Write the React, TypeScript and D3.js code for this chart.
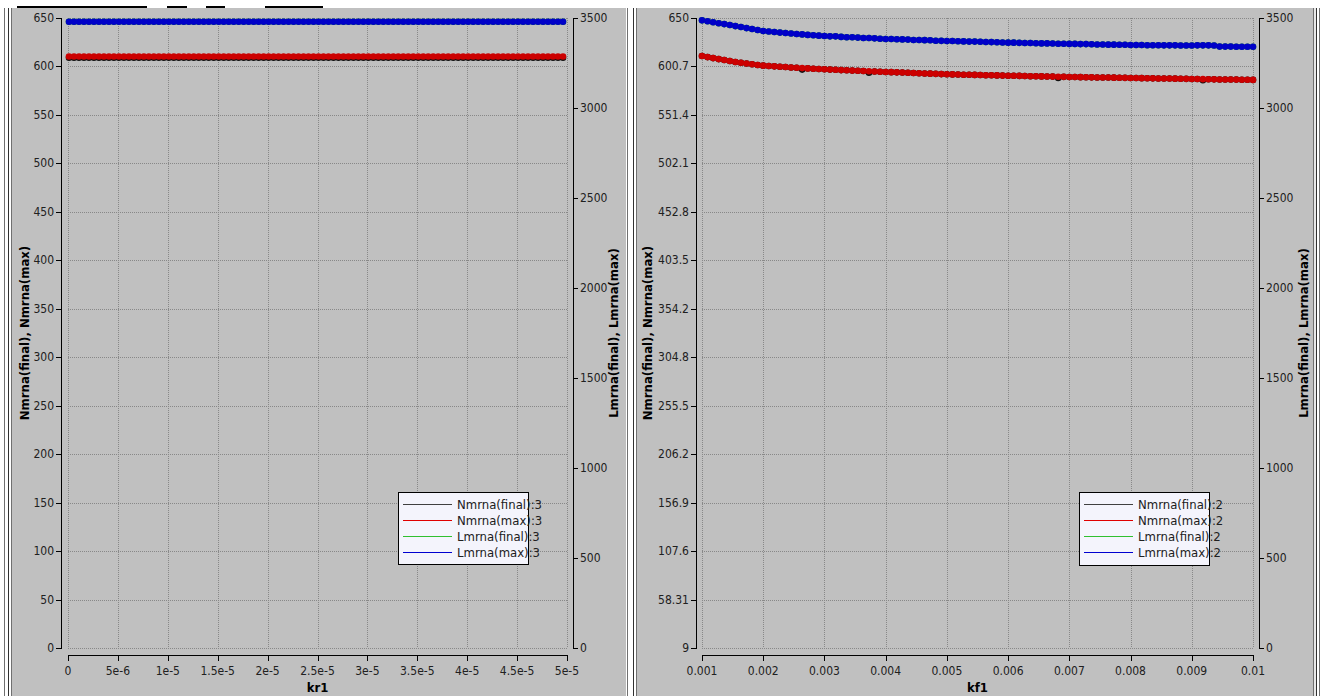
import React from "react";
import * as d3 from "d3";

// ---------- DATA ----------
// Left panel: sweep over kr1
const kr1Ticks = [0, 5e-6, 1e-5, 1.5e-5, 2e-5, 2.5e-5, 3e-5, 3.5e-5, 4e-5, 4.5e-5, 5e-5];
const kr1TickLabels = ["0", "5e-6", "1e-5", "1.5e-5", "2e-5", "2.5e-5", "3e-5", "3.5e-5", "4e-5", "4.5e-5", "5e-5"];
const leftNTicks = [0, 50, 100, 150, 200, 250, 300, 350, 400, 450, 500, 550, 600, 650];
const leftNTickLabels = ["0", "50", "100", "150", "200", "250", "300", "350", "400", "450", "500", "550", "600", "650"];
const lTicks = [0, 500, 1000, 1500, 2000, 2500, 3000, 3500];
const lTickLabels = ["0", "500", "1000", "1500", "2000", "2500", "3000", "3500"];
// constant outputs across the kr1 sweep (100 samples)
const kr1NFinal = 609.0;
const kr1NMax = 610.3;
const kr1LFinal = 3479;
const kr1LMax = 3479;

// Right panel: sweep over kf1
const kf1Ticks = [0.001, 0.002, 0.003, 0.004, 0.005, 0.006, 0.007, 0.008, 0.009, 0.01];
const kf1TickLabels = ["0.001", "0.002", "0.003", "0.004", "0.005", "0.006", "0.007", "0.008", "0.009", "0.01"];
const rightNTicks = [9, 58.31, 107.6, 156.9, 206.2, 255.5, 304.8, 354.2, 403.5, 452.8, 502.1, 551.4, 600.7, 650];
const rightNTickLabels = ["9", "58.31", "107.6", "156.9", "206.2", "255.5", "304.8", "354.2", "403.5", "452.8", "502.1", "551.4", "600.7", "650"];

const kf1LMax = [
  3487, 3482, 3476, 3471, 3466, 3461, 3455, 3450, 3444, 3439, 3433, 3428,
  3425, 3422, 3419, 3417, 3414, 3411, 3409, 3406, 3404, 3402, 3400,
  3398, 3398, 3395, 3393, 3393, 3391, 3389, 3389, 3387, 3385, 3383,
  3383, 3382, 3381, 3380, 3378, 3378, 3377, 3376, 3374, 3373, 3372,
  3372, 3371, 3370, 3369, 3369, 3368, 3367, 3366, 3365, 3364, 3363,
  3363, 3362, 3361, 3361, 3360, 3359, 3359, 3358, 3357, 3357, 3356,
  3356, 3355, 3355, 3354, 3353, 3353, 3352, 3352, 3351, 3351, 3350,
  3350, 3350, 3349, 3349, 3349, 3348, 3348, 3348, 3347, 3347, 3347,
  3348, 3348, 3348, 3347, 3341, 3341, 3341, 3340, 3340, 3340, 3340,
];
const kf1LFinal = [
  3487, 3482, 3476, 3471, 3466, 3461, 3455, 3450, 3444, 3439, 3433, 3428,
  3425, 3422, 3419, 3417, 3414, 3411, 3409, 3406, 3404, 3402, 3400,
  3398, 3398, 3395, 3393, 3393, 3391, 3389, 3389, 3387, 3385, 3383,
  3383, 3382, 3381, 3380, 3378, 3378, 3377, 3376, 3374, 3373, 3372,
  3372, 3371, 3370, 3369, 3369, 3368, 3367, 3366, 3365, 3364, 3363,
  3363, 3362, 3361, 3361, 3360, 3359, 3359, 3358, 3357, 3357, 3356,
  3356, 3355, 3355, 3354, 3353, 3353, 3352, 3352, 3351, 3351, 3350,
  3350, 3350, 3349, 3349, 3349, 3348, 3348, 3348, 3347, 3347, 3347,
  3348, 3348, 3348, 3347, 3341, 3341, 3341, 3340, 3340, 3340, 3340,
];
const kf1NMax = [
  611.3, 610.2, 609.2, 608.2, 607.2, 606.2, 605.3, 604.5, 603.7, 603.0, 602.2, 601.5,
  601.1, 600.8, 600.4, 600.1, 599.7, 599.4, 599.0, 598.7, 598.4, 598.1, 597.8,
  597.5, 597.3, 597.0, 596.8, 596.5, 596.3, 596.0, 595.8, 595.6, 595.3, 595.1,
  594.9, 594.7, 594.5, 594.3, 594.0, 593.8, 593.6, 593.4, 593.2, 592.9, 592.7,
  592.6, 592.5, 592.3, 592.2, 592.1, 592.0, 591.8, 591.7, 591.6, 591.4, 591.3,
  591.2, 591.1, 591.0, 590.8, 590.7, 590.6, 590.5, 590.4, 590.3, 590.1, 590.0,
  589.9, 589.8, 589.7, 589.6, 589.5, 589.5, 589.4, 589.3, 589.2, 589.1, 589.0,
  588.9, 588.8, 588.7, 588.6, 588.5, 588.5, 588.4, 588.3, 588.2, 588.1, 588.0,
  587.9, 587.8, 587.7, 587.6, 587.5, 587.5, 587.4, 587.3, 587.2, 587.1, 587.0,
];
const kf1NFinal = [
  611.3, 610.2, 609.2, 608.2, 607.2, 606.2, 605.3, 604.5, 603.7, 603.0, 602.2, 601.5,
  601.1, 600.8, 600.4, 600.1, 599.7, 599.4, 597.5, 598.7, 598.4, 598.1, 597.8,
  597.5, 597.3, 597.0, 596.8, 596.5, 596.3, 596.0, 594.3, 595.6, 595.3, 595.1,
  594.9, 594.7, 594.5, 594.3, 594.0, 593.8, 593.6, 593.4, 593.2, 592.9, 592.7,
  592.6, 592.5, 592.3, 592.2, 592.1, 592.0, 591.8, 591.7, 591.6, 591.4, 591.3,
  591.2, 591.1, 591.0, 590.8, 590.7, 590.6, 590.5, 590.4, 589.0, 590.1, 590.0,
  589.9, 589.8, 589.7, 589.6, 589.5, 589.5, 589.4, 589.3, 589.2, 589.1, 589.0,
  588.9, 588.8, 588.7, 588.6, 588.5, 588.5, 588.4, 588.3, 588.2, 588.1, 588.0,
  587.9, 586.6, 587.7, 587.6, 587.5, 587.5, 587.4, 587.3, 587.2, 587.1, 587.0,
];

const legendNames = ["Nmrna(final)", "Nmrna(max)", "Lmrna(final)", "Lmrna(max)"];
const legendColors = ["#404040", "#e00000", "#30c030", "#0000d0"];

// ---------- STYLE ----------
const FONT = "'Liberation Sans Narrow', 'Arial Narrow', 'DejaVu Sans Condensed', 'Liberation Sans', Arial, sans-serif";
const TXT = "#202020";
const DOT_R = 3.3;

type Cfg = {
  xDomain: [number, number];
  xRange: [number, number];
  yLDomain: [number, number];
  yRDomain: [number, number];
  top: number;
  bottom: number;
  leftAxisX: number;
  rightAxisX: number;
  xAxisY: number;
  xTicks: number[];
  xLabels: string[];
  yLTicks: number[];
  yLLabels: string[];
  xTitle: string;
  leftTitleX: number;
  rightTitleX: number;
  legend: { x: number; y: number; w: number; h: number; suffix: string };
  xs: number[];
  nFinal: number[];
  nMax: number[];
  lFinal: number[];
  lMax: number[];
};

function Chart({ c }: { c: Cfg }) {
  const x = d3.scaleLinear().domain(c.xDomain).range(c.xRange);
  const yL = d3.scaleLinear().domain(c.yLDomain).range([c.bottom, c.top]);
  const yR = d3.scaleLinear().domain(c.yRDomain).range([c.bottom, c.top]);
  const [x0, x1] = c.xRange;
  const series = [
    { vals: c.lFinal, s: yR, color: "#20a020" },
    { vals: c.lMax, s: yR, color: "#0000c8" },
    { vals: c.nFinal, s: yL, color: "#101010" },
    { vals: c.nMax, s: yL, color: "#cc0000" },
  ];
  const midY = (c.top + c.bottom) / 2;
  return (
    <g>
      {/* grid */}
      {c.yLTicks.map((t, i) => (
        <line key={"gh" + i} x1={x0} x2={x1} y1={Math.round(yL(t)) + 0.5} y2={Math.round(yL(t)) + 0.5}
          stroke="#888" strokeWidth={1} strokeDasharray="1,1" />
      ))}
      {c.xTicks.map((t, i) => (
        <line key={"gv" + i} x1={Math.round(x(t)) + 0.5} x2={Math.round(x(t)) + 0.5} y1={c.top} y2={c.bottom}
          stroke="#888" strokeWidth={1} strokeDasharray="1,1" />
      ))}
      {/* series */}
      {series.map((s, si) => (
        <g key={"s" + si}>
          <path
            d={d3.line<number>().x((_, i) => x(c.xs[i])).y((v) => s.s(v))(s.vals) || ""}
            fill="none" stroke={s.color} strokeWidth={1} />
          {s.vals.map((v, i) => (
            <circle key={i} cx={x(c.xs[i])} cy={s.s(v)} r={DOT_R} fill={s.color} />
          ))}
        </g>
      ))}
      {/* left axis */}
      <line x1={c.leftAxisX + 0.5} x2={c.leftAxisX + 0.5} y1={c.top} y2={c.bottom + 1} stroke="#000" />
      {c.yLTicks.map((t, i) => (
        <g key={"lt" + i}>
          <line x1={c.leftAxisX - 5} x2={c.leftAxisX + 0.5} y1={Math.round(yL(t)) + 0.5} y2={Math.round(yL(t)) + 0.5} stroke="#000" />
          <text x={c.leftAxisX - 7} y={yL(t) + 4} textAnchor="end" fontSize={12} fontFamily={FONT} fill={TXT}>{c.yLLabels[i]}</text>
        </g>
      ))}
      {/* right axis */}
      <line x1={c.rightAxisX + 0.5} x2={c.rightAxisX + 0.5} y1={c.top} y2={c.bottom + 1} stroke="#000" />
      {lTicks.map((t, i) => (
        <g key={"rt" + i}>
          <line x1={c.rightAxisX} x2={c.rightAxisX + 5} y1={Math.round(yR(t)) + 0.5} y2={Math.round(yR(t)) + 0.5} stroke="#000" />
          <text x={c.rightAxisX + 7} y={yR(t) + 4} textAnchor="start" fontSize={12} fontFamily={FONT} fill={TXT}>{lTickLabels[i]}</text>
        </g>
      ))}
      {/* x axis */}
      <line x1={x0} x2={x1 + 1} y1={c.xAxisY + 0.5} y2={c.xAxisY + 0.5} stroke="#000" />
      {c.xTicks.map((t, i) => (
        <g key={"xt" + i}>
          <line x1={Math.round(x(t)) + 0.5} x2={Math.round(x(t)) + 0.5} y1={c.xAxisY} y2={c.xAxisY + 6} stroke="#000" />
          <text x={x(t)} y={c.xAxisY + 20} textAnchor="middle" fontSize={12} fontFamily={FONT} fill={TXT}>{c.xLabels[i]}</text>
        </g>
      ))}
      {/* titles */}
      <text x={(x0 + x1) / 2} y={c.xAxisY + 37} textAnchor="middle" fontSize={13} fontWeight="bold" fontFamily={FONT} fill="#000">{c.xTitle}</text>
      <text transform={`translate(${c.leftTitleX},${midY}) rotate(-90)`} textAnchor="middle" fontSize={13} fontWeight="bold" fontFamily={FONT} fill="#000">Nmrna(final), Nmrna(max)</text>
      <text transform={`translate(${c.rightTitleX},${midY}) rotate(-90)`} textAnchor="middle" fontSize={13} fontWeight="bold" fontFamily={FONT} fill="#000">Lmrna(final), Lmrna(max)</text>
      {/* legend */}
      <rect x={c.legend.x + 0.5} y={c.legend.y + 0.5} width={c.legend.w} height={c.legend.h} fill="#f4f4fc" stroke="#000" />
      {legendNames.map((n, i) => {
        const ly = c.legend.y + 12 + i * 16;
        return (
          <g key={"lg" + i}>
            <line x1={c.legend.x + 5} x2={c.legend.x + 54} y1={ly + 0.5} y2={ly + 0.5} stroke={legendColors[i]} strokeWidth={1.2} />
            <text x={c.legend.x + 59} y={ly + 4.5} fontSize={13} fontFamily={FONT} fill={TXT}>{n + c.legend.suffix}</text>
          </g>
        );
      })}
    </g>
  );
}

export default function App() {
  const kr1Xs = d3.range(100).map((i) => 5e-7 * (i + 0.2));
  const kf1Xs = d3.range(100).map((i) => 0.001 + (0.009 * i) / 99);
  const left: Cfg = {
    xDomain: [0, 5e-5], xRange: [68, 567], yLDomain: [0, 650], yRDomain: [0, 3500],
    top: 18, bottom: 648, leftAxisX: 61, rightAxisX: 573, xAxisY: 655,
    xTicks: kr1Ticks, xLabels: kr1TickLabels, yLTicks: leftNTicks, yLLabels: leftNTickLabels,
    xTitle: "kr1", leftTitleX: 29, rightTitleX: 618,
    legend: { x: 398, y: 492, w: 130, h: 72, suffix: ":3" },
    xs: kr1Xs,
    nFinal: kr1Xs.map(() => kr1NFinal), nMax: kr1Xs.map(() => kr1NMax),
    lFinal: kr1Xs.map(() => kr1LFinal), lMax: kr1Xs.map(() => kr1LMax),
  };
  const right: Cfg = {
    xDomain: [0.001, 0.01], xRange: [702, 1253], yLDomain: [9, 650], yRDomain: [0, 3500],
    top: 18, bottom: 648, leftAxisX: 696, rightAxisX: 1259, xAxisY: 655,
    xTicks: kf1Ticks, xLabels: kf1TickLabels, yLTicks: rightNTicks, yLLabels: rightNTickLabels,
    xTitle: "kf1", leftTitleX: 652, rightTitleX: 1308,
    legend: { x: 1079, y: 492, w: 130, h: 73, suffix: ":2" },
    xs: kf1Xs, nFinal: kf1NFinal, nMax: kf1NMax, lFinal: kf1LFinal, lMax: kf1LMax,
  };
  return (
    <div style={{ position: "absolute", left: 0, top: 0 }}>
      <svg width={1324} height={696} style={{ display: "block" }}>
        <rect x={0} y={0} width={1324} height={696} fill="#fff" />
        {/* panels */}
        <rect x={12} y={8} width={614} height={688} fill="#c0c0c0" />
        <rect x={637} y={8} width={676} height={688} fill="#c0c0c0" />
        {/* window frame lines */}
        {[4.5, 8.5, 11.5, 627.5, 633.5, 636.5, 1313.5, 1316.5, 1319.5].map((lx, i) => (
          <line key={"fr" + i} x1={lx} x2={lx} y1={8} y2={696} stroke={i % 3 === 1 ? "#303030" : "#707070"} strokeWidth={1} />
        ))}
        <rect x={628} y={8} width={5} height={688} fill="#fff" />
        <rect x={1314} y={8} width={2} height={688} fill="#e8e8e8" />
        {/* top bar fragments */}
        {[[17, 147], [167, 187], [206, 225], [265, 323]].map(([a, b], i) => (
          <line key={"tb" + i} x1={a} x2={b} y1={7} y2={7} stroke="#000" strokeWidth={2} />
        ))}
        <Chart c={left} />
        <Chart c={right} />
      </svg>
    </div>
  );
}
